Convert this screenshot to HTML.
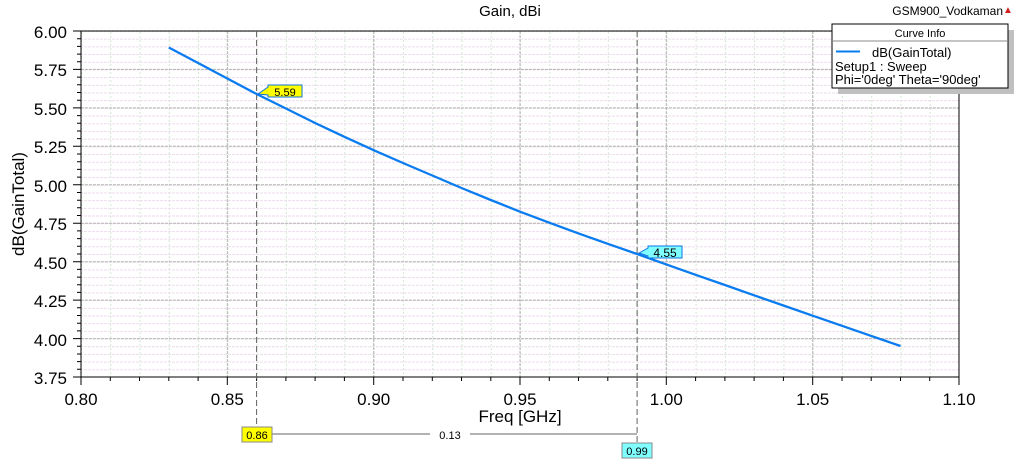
<!DOCTYPE html>
<html><head><style>
body{margin:0;background:#fff;}
svg text{font-family:"Liberation Sans",Arial,sans-serif;}
</style></head><body>
<svg width="1020" height="462" viewBox="0 0 1020 462" xmlns="http://www.w3.org/2000/svg">
<defs>
<pattern id="vmin" x="81" y="0" width="29.267" height="4" patternUnits="userSpaceOnUse">
<line x1="0.5" y1="0" x2="0.5" y2="4" stroke="#d4e6d4" stroke-width="1" stroke-dasharray="2,2"/>
</pattern>
<pattern id="hmin" x="0" y="31" width="4" height="7.689" patternUnits="userSpaceOnUse">
<line x1="0" y1="0.5" x2="4" y2="0.5" stroke="#ecdcec" stroke-width="1" stroke-dasharray="3,1"/>
</pattern>
</defs>
<rect x="81" y="31" width="878" height="346" fill="url(#vmin)"/>
<rect x="81" y="31" width="878" height="346" fill="url(#hmin)"/>
<g stroke="#b4b4b4" stroke-width="1" stroke-dasharray="3,1">
<line x1="227.3" y1="31" x2="227.3" y2="377"/><line x1="373.7" y1="31" x2="373.7" y2="377"/>
<line x1="520" y1="31" x2="520" y2="377"/><line x1="666.3" y1="31" x2="666.3" y2="377"/>
<line x1="812.7" y1="31" x2="812.7" y2="377"/>
<line x1="81" y1="69.4" x2="959" y2="69.4"/><line x1="81" y1="107.9" x2="959" y2="107.9"/>
<line x1="81" y1="146.3" x2="959" y2="146.3"/><line x1="81" y1="184.8" x2="959" y2="184.8"/>
<line x1="81" y1="223.2" x2="959" y2="223.2"/><line x1="81" y1="261.7" x2="959" y2="261.7"/>
<line x1="81" y1="300.1" x2="959" y2="300.1"/><line x1="81" y1="338.6" x2="959" y2="338.6"/>
</g>
<line x1="81" y1="31" x2="959" y2="31" stroke="#000"/>
<line x1="81" y1="31" x2="81" y2="377" stroke="#000"/>
<line x1="81" y1="377" x2="959" y2="377" stroke="#000"/>
<line x1="959" y1="31" x2="959" y2="377" stroke="#000"/>
<g stroke="#000" stroke-width="1">
<path d="M73,31H81M73,69.4H81M73,107.9H81M73,146.3H81M73,184.8H81M73,223.2H81M73,261.7H81M73,300.1H81M73,338.6H81M73,377H81"/>
<path d="M77,38.7H81M77,46.4H81M77,54.1H81M77,61.7H81M77,77.1H81M77,84.8H81M77,92.5H81M77,100.2H81M77,115.6H81M77,123.3H81M77,131H81M77,138.6H81M77,154H81M77,161.7H81M77,169.4H81M77,177.1H81M77,192.5H81M77,200.2H81M77,207.8H81M77,215.5H81M77,230.9H81M77,238.6H81M77,246.3H81M77,254H81M77,269.4H81M77,277.1H81M77,284.8H81M77,292.4H81M77,307.8H81M77,315.5H81M77,323.2H81M77,330.9H81M77,346.3H81M77,354H81M77,361.6H81M77,369.3H81"/>
<path d="M81,377V385M227.3,377V385M373.7,377V385M520,377V385M666.3,377V385M812.7,377V385M959,377V385"/>
<path d="M110.3,377V381M139.5,377V381M168.8,377V381M198.1,377V381M256.6,377V381M285.9,377V381M315.1,377V381M344.4,377V381M403,377V381M432.3,377V381M461.5,377V381M490.8,377V381M549.3,377V381M578.5,377V381M607.8,377V381M637.1,377V381M695.6,377V381M724.9,377V381M754.1,377V381M783.4,377V381M842,377V381M871.2,377V381M900.5,377V381M929.7,377V381"/>
</g>
<g font-size="17" text-anchor="end" fill="#000">
<text x="67" y="38">6.00</text><text x="67" y="76">5.75</text><text x="67" y="115">5.50</text>
<text x="67" y="153">5.25</text><text x="67" y="192">5.00</text><text x="67" y="230">4.75</text>
<text x="67" y="269">4.50</text><text x="67" y="307">4.25</text><text x="67" y="346">4.00</text>
<text x="67" y="384">3.75</text>
</g>
<g font-size="17" text-anchor="middle" fill="#000">
<text x="81" y="405">0.80</text><text x="227.3" y="405">0.85</text><text x="373.7" y="405">0.90</text>
<text x="520" y="405">0.95</text><text x="666.3" y="405">1.00</text><text x="812.7" y="405">1.05</text>
<text x="959" y="405">1.10</text>
</g>
<text x="520" y="422" font-size="17" text-anchor="middle">Freq [GHz]</text>
<text x="510" y="16" font-size="15" text-anchor="middle">Gain, dBi</text>
<text x="24" y="204" font-size="17" text-anchor="middle" transform="rotate(-90 24 204)">dB(GainTotal)</text>
<line x1="256.6" y1="31" x2="256.6" y2="433" stroke="#606060" stroke-dasharray="6,3"/>
<line x1="637.1" y1="31" x2="637.1" y2="443" stroke="#606060" stroke-dasharray="6,3"/>
<line x1="272" y1="434" x2="637" y2="434" stroke="#666"/>
<rect x="430" y="428" width="40" height="12" fill="#fff"/>
<text x="450" y="439" font-size="11" text-anchor="middle">0.13</text>
<rect x="242" y="427" width="30" height="15" fill="#ffff00" stroke="#888"/>
<text x="257" y="439" font-size="11" text-anchor="middle">0.86</text>
<rect x="622" y="443" width="30" height="15" fill="#80ffff" stroke="#888"/>
<text x="637" y="455" font-size="11" text-anchor="middle">0.99</text>
<polyline points="168.8,47.5 198.1,63 227.3,78.5 256.6,94 285.9,108.5 315.1,123 344.4,136.8 373.7,150.2 403,163 432.3,175.5 461.5,188 490.8,200 520,211.7 549.3,222.7 578.5,233.4 607.8,243.8 637.1,254 666.3,264.4 695.6,274.8 724.9,285 754.1,295.3 783.4,305.5 812.7,315.7 842,325.8 871.2,335.9 900.5,346" fill="none" stroke="#0a7cf0" stroke-width="2.3"/>
<polygon points="258,94 268,87 268,85 302,85 302,97 268,97 268,95" fill="#ffff00" stroke="#1070e0"/>
<text x="285" y="96" font-size="11" text-anchor="middle">5.59</text>
<polygon points="639,253 648,248 648,246 682,246 682,258 648,258 648,256" fill="#80ffff" stroke="#1070e0"/>
<text x="665" y="257" font-size="12" text-anchor="middle">4.55</text>
<text x="1003" y="15" font-size="12" text-anchor="end">GSM900_Vodkaman</text>
<text x="1003" y="13" font-size="10" fill="#d02020">▲</text>
<rect x="838" y="30" width="176" height="64" fill="#c0c0c0"/>
<rect x="832" y="24" width="176" height="64" fill="#fff" stroke="#000"/>
<line x1="832" y1="41" x2="1008" y2="41" stroke="#888"/>
<text x="920" y="37" font-size="11" text-anchor="middle">Curve Info</text>
<line x1="836" y1="51.5" x2="860" y2="51.5" stroke="#0a7cf0" stroke-width="2"/>
<text x="872" y="57" font-size="13">dB(GainTotal)</text>
<text x="835" y="71" font-size="13">Setup1 : Sweep</text>
<text x="835" y="84" font-size="13">Phi='0deg' Theta='90deg'</text>
</svg>
</body></html>
